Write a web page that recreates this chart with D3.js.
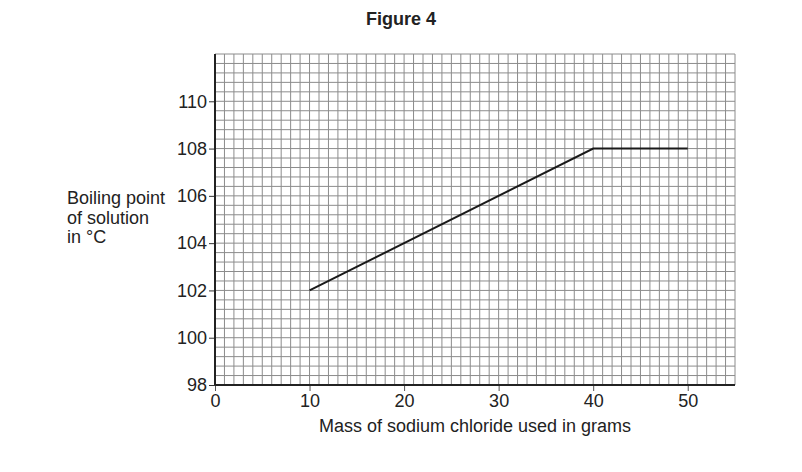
<!DOCTYPE html>
<html lang="en">
<head>
<meta charset="UTF-8">
<script src="https://d3js.org/d3.v7.min.js"></script>
<title>Figure 4</title>
<style>
    body { margin: 0; background: #fff; }
    text { font-family: 'Liberation Sans', Arial, sans-serif; fill: #222; }
</style>
</head>
<body>
<svg id="canvas"></svg>
<script>
// data
let mass = [10, 40, 50]
let boiling = [102, 108, 108]
let xTicks = [0, 10, 20, 30, 40, 50]
let yTicks = [98, 100, 102, 104, 106, 108, 110]

let width = 802
let height = 472

let svg = d3.select('#canvas').attr('width', width).attr('height', height)

let xScale = d3.scaleLinear().domain([0, 55]).range([215, 735])
let yScale = d3.scaleLinear().domain([98, 112]).range([385, 54])

// graph paper
let g = svg.append('g')
g.selectAll('.vgrid')
    .data(d3.range(0, 56, 1))
    .enter()
    .append('line')
    .attr('x1', d => xScale(d)).attr('x2', d => xScale(d))
    .attr('y1', yScale(98)).attr('y2', yScale(112))
    .attr('stroke', '#8c8c8c')
    .attr('stroke-width', 1)

g.selectAll('.hgrid')
    .data(d3.range(0, 36, 1).map(i => 98 + i * 0.4))
    .enter()
    .append('line')
    .attr('y1', d => yScale(d)).attr('y2', d => yScale(d))
    .attr('x1', xScale(0)).attr('x2', xScale(55))
    .attr('stroke', '#8c8c8c')
    .attr('stroke-width', 1)

// axes
let xAxis = d3.axisBottom(xScale).tickValues(xTicks).tickSize(6).tickPadding(3)
let yAxis = d3.axisLeft(yScale).tickValues(yTicks).tickSize(6).tickPadding(2)

let gx = svg.append('g')
    .attr('transform', 'translate(0,' + yScale(98) + ')')
    .call(xAxis)
gx.select('.domain').remove()
gx.selectAll('line').attr('stroke', '#555')
gx.selectAll('text').style('font-size', '18px').attr('fill', '#222')

let gy = svg.append('g')
    .attr('transform', 'translate(' + xScale(0) + ',0)')
    .call(yAxis)
gy.select('.domain').remove()
gy.selectAll('line').attr('stroke', '#333')
gy.selectAll('text').style('font-size', '18px').attr('fill', '#222')

svg.append('line')
    .attr('x1', xScale(0)).attr('x2', xScale(55))
    .attr('y1', yScale(98)).attr('y2', yScale(98))
    .attr('stroke', '#222').attr('stroke-width', 2)
svg.append('line')
    .attr('x1', xScale(0)).attr('x2', xScale(0))
    .attr('y1', yScale(98)).attr('y2', yScale(112))
    .attr('stroke', '#222').attr('stroke-width', 2)

// the plotted line
let points = mass.map((m, i) => [m, boiling[i]])
svg.append('path')
    .datum(points)
    .attr('fill', 'none')
    .attr('stroke', '#1a1a1a')
    .attr('stroke-width', 2)
    .attr('d', d3.line().x(d => xScale(d[0])).y(d => yScale(d[1])))

// titles
svg.append('text')
    .attr('x', 401).attr('y', 25)
    .attr('text-anchor', 'middle')
    .style('font-size', '18px').style('font-weight', 'bold')
    .text('Figure 4')

svg.append('text')
    .attr('x', 475).attr('y', 432)
    .attr('text-anchor', 'middle')
    .style('font-size', '18px')
    .text('Mass of sodium chloride used in grams')

let ylab = svg.append('text').style('font-size', '18px')
;['Boiling point', 'of solution', 'in °C'].forEach((t, i) => {
    ylab.append('tspan').attr('x', 67).attr('y', 204 + i * 19.5).text(t)
})
</script>
</body>
</html>
